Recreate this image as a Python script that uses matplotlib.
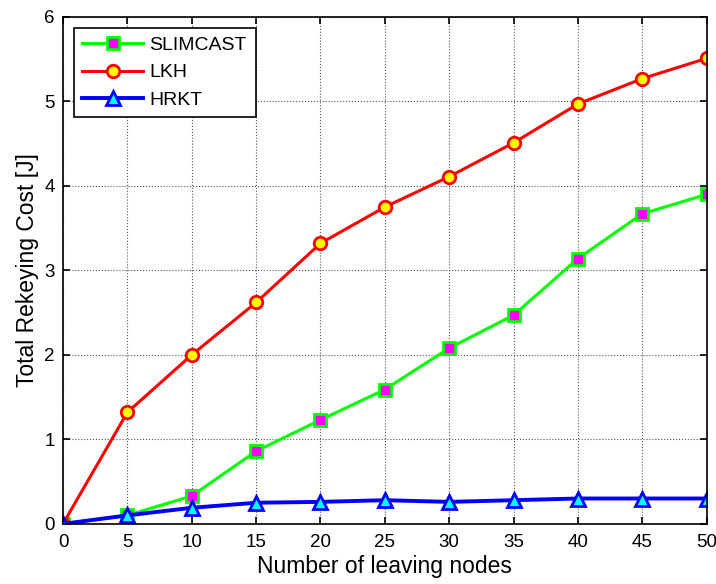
import matplotlib
matplotlib.use("Agg")
import matplotlib.pyplot as plt

plt.rcParams['font.family'] = ['Liberation Sans', 'DejaVu Sans']

# data
nodes = [0, 5, 10, 15, 20, 25, 30, 35, 40, 45, 50]
slimcast = [0, 0.10, 0.33, 0.86, 1.23, 1.59, 2.08, 2.47, 3.14, 3.67, 3.90]
lkh = [0, 1.32, 2.00, 2.62, 3.32, 3.75, 4.11, 4.51, 4.97, 5.27, 5.51]
hrkt = [0, 0.10, 0.19, 0.25, 0.26, 0.28, 0.26, 0.28, 0.30, 0.30, 0.30]

fig = plt.figure(figsize=(7.16, 5.84), dpi=100)
ax = fig.add_axes([0.088, 0.103, 0.899, 0.868])

ax.plot(nodes, slimcast, color="#00ff00", lw=2.2, marker="s", ms=9,
        mfc="magenta", mec="#00ff00", mew=2, label="SLIMCAST")
ax.plot(nodes, lkh, color="red", lw=2.2, marker="o", ms=9,
        mfc="yellow", mec="red", mew=2, label="LKH")
ax.plot(nodes, hrkt, color="blue", lw=2.8, marker="^", ms=10,
        mfc="cyan", mec="blue", mew=2, label="HRKT")

ax.set_xlim(0, 50)
ax.set_ylim(0, 6)
ax.set_xticks(nodes)
ax.set_yticks(range(0, 7))
ax.grid(True, color="#555555", linestyle=":", linewidth=0.8)
ax.tick_params(direction="in", top=True, right=True, labelsize=13.5, length=5, width=1.2)
ax.tick_params(axis="x", pad=7)
ax.tick_params(axis="y", pad=6)
for s in ax.spines.values():
    s.set_linewidth(1.2)

ax.set_xlabel("Number of leaving nodes", fontsize=16.5, labelpad=3)
ax.set_ylabel("Total Rekeying Cost [J]", fontsize=16.5, labelpad=4)

leg = ax.legend(loc="upper left", fontsize=14, fancybox=False, framealpha=1,
                edgecolor="black", borderaxespad=0.55, handlelength=3.1,
                handletextpad=0.35, labelspacing=0.5, borderpad=0.45)
leg.get_frame().set_linewidth(1.2)

fig.savefig("out.png", dpi=100)
